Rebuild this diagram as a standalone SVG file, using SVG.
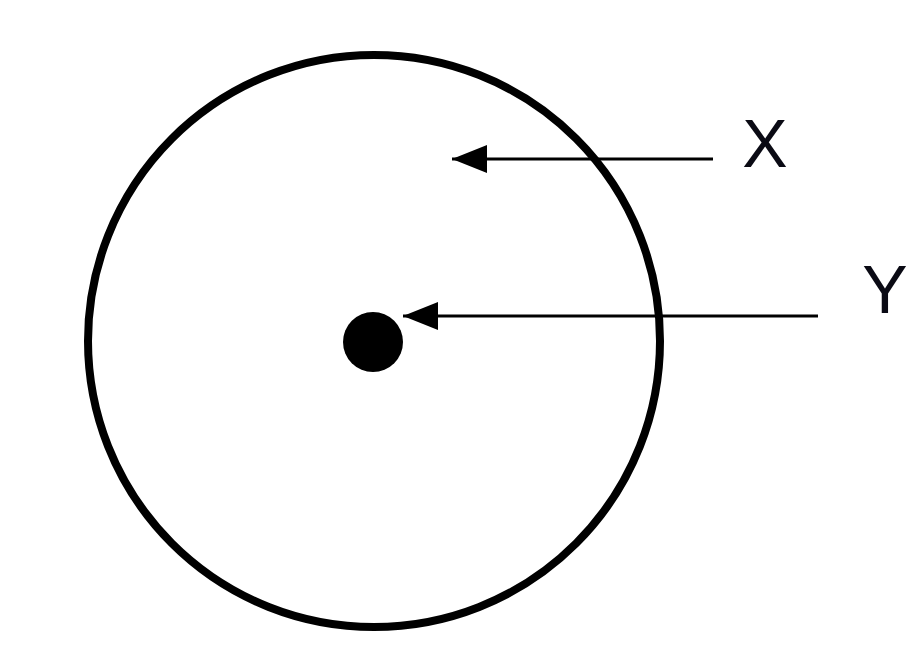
<svg xmlns="http://www.w3.org/2000/svg" width="921" height="656" viewBox="0 0 921 656">
<style>
.lbl{font-family:"Liberation Sans",Arial,sans-serif;font-size:68px;fill:#0a0a14;text-anchor:middle}
.conn{stroke:#000;stroke-width:3;fill:none}
</style>
<defs>
<marker id="ah" markerUnits="userSpaceOnUse" markerWidth="40" markerHeight="40" refX="35" refY="16" orient="auto" viewBox="0 0 40 32">
<path d="M35,16 L0,2 L0,30 Z" fill="#000"/>
</marker>
</defs>
<rect width="921" height="656" fill="#fff"/>
<g id="outer-circle">
<circle cx="374" cy="341" r="286" fill="none" stroke="#000" stroke-width="8"/>
</g>
<g id="center-dot">
<circle cx="373" cy="342" r="30" fill="#000"/>
</g>
<g id="connectors">
<line class="conn" x1="713" y1="159" x2="452" y2="159" marker-end="url(#ah)"/>
<line class="conn" x1="818" y1="316" x2="403" y2="316" marker-end="url(#ah)"/>
</g>
<g id="label-x">
<text class="lbl" x="765" y="167">X</text>
</g>
<g id="label-y">
<text class="lbl" x="885" y="313">Y</text>
</g>
</svg>
